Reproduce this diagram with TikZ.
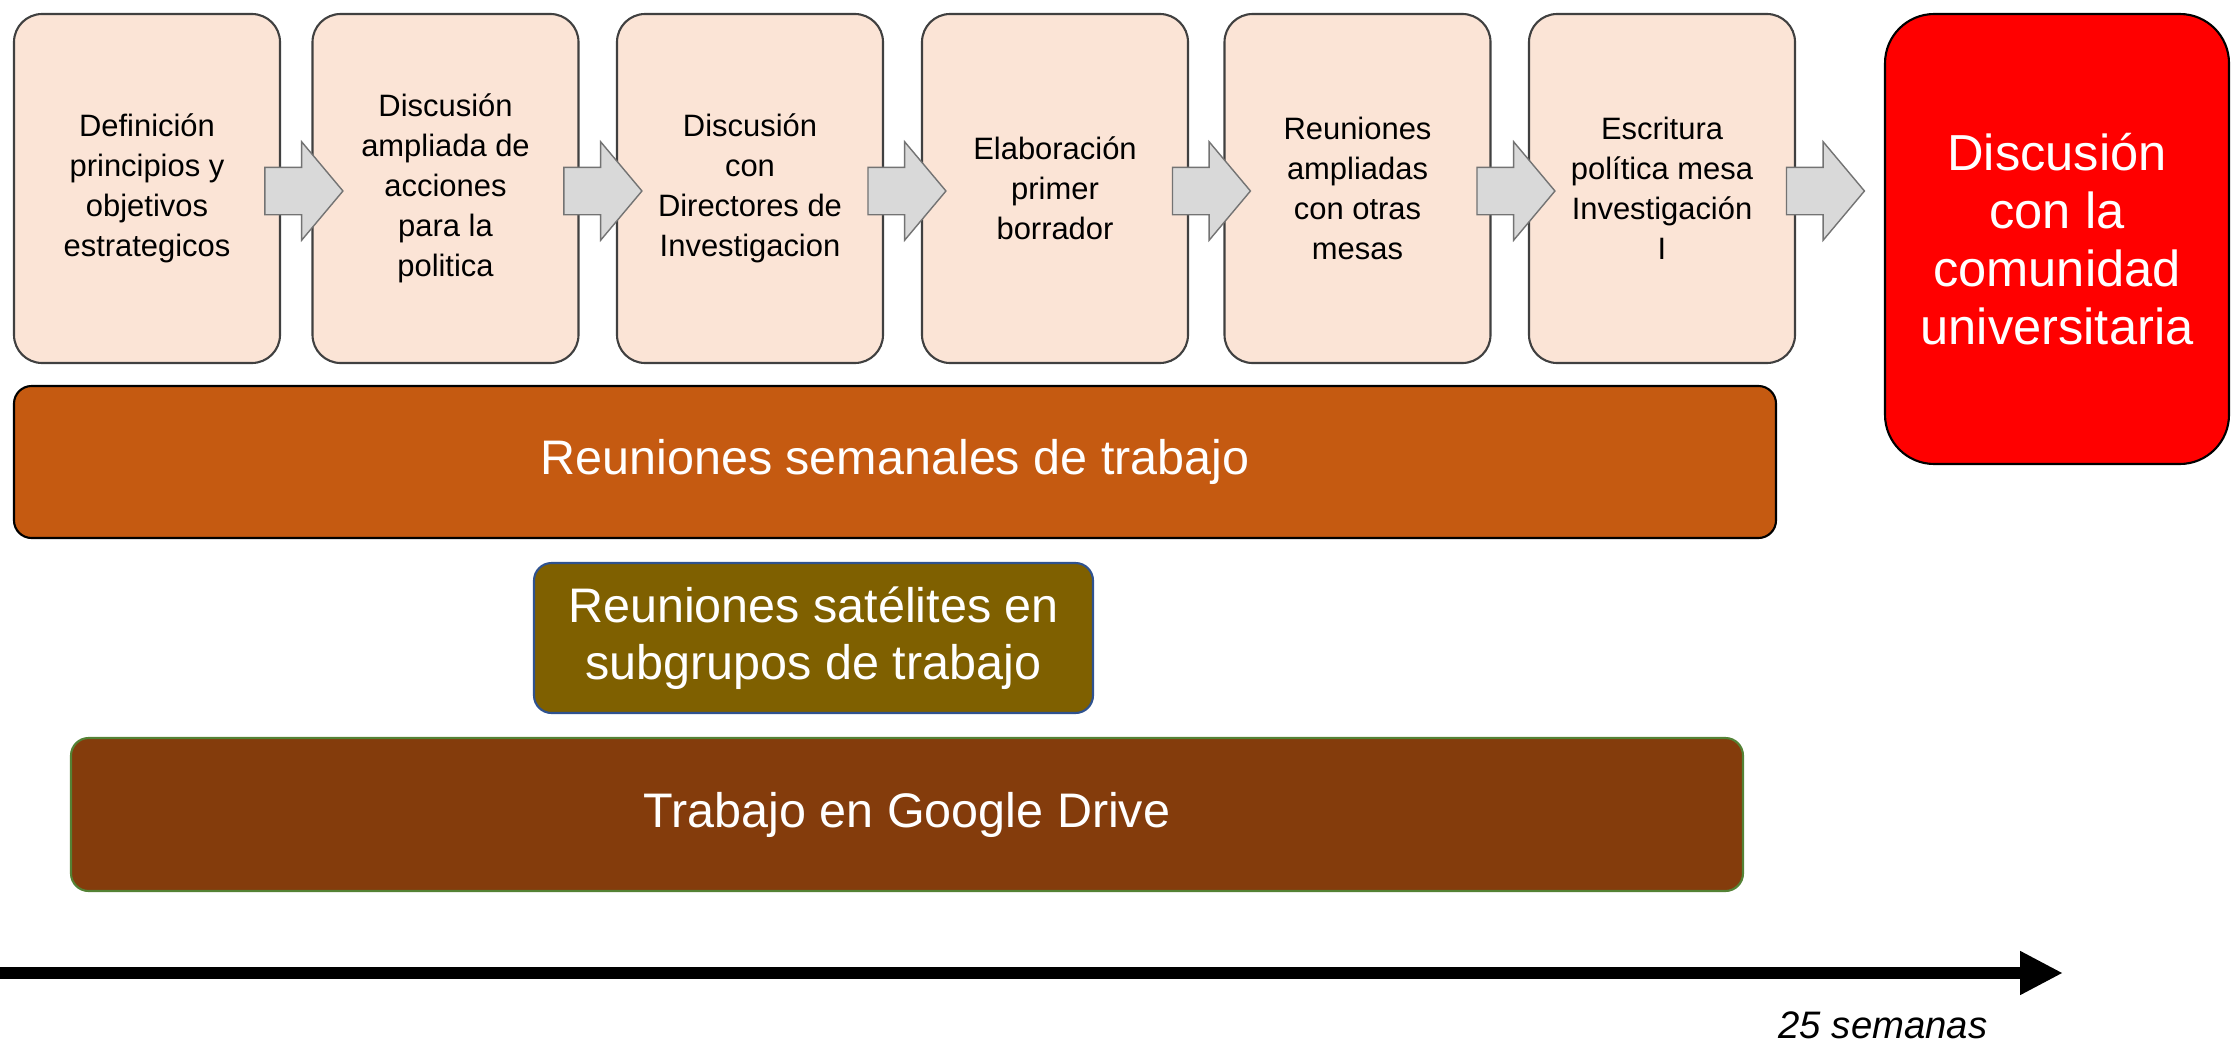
\documentclass[tikz,border=0pt]{standalone}
\usepackage{fontspec}
\setmainfont{Liberation Sans}
\usetikzlibrary{positioning,calc}
\usetikzlibrary{arrows.meta,shapes.arrows}
\definecolor{PeachFill}{RGB}{251,228,214}
\definecolor{StepGray}{RGB}{217,217,217}
\definecolor{BurntOrange}{RGB}{197,90,17}
\definecolor{OliveDark}{RGB}{127,96,0}
\definecolor{DriveBrown}{RGB}{132,60,12}
\definecolor{OliveEdge}{RGB}{47,82,143}
\definecolor{DriveEdge}{RGB}{84,130,53}
\tikzset{
  stage/.style={draw=black!75,fill=PeachFill,rounded corners=8pt,line width=0.6pt,inner sep=2pt,
    minimum width=2.66cm,minimum height=3.49cm,align=center,font=\fontsize{8.8}{11.4}\selectfont},
  goal/.style={draw=black,fill=red,text=white,rounded corners=14pt,line width=0.6pt,
    minimum width=3.44cm,minimum height=4.5cm,align=center,font=\fontsize{14.4}{16.5}\selectfont},
  band/.style={rounded corners=5pt,line width=0.6pt,text=white,align=center,font=\fontsize{13.8}{16.3}\selectfont},
}
\tikzset{blockarrow/.style={single arrow,draw=black!55,fill=StepGray,inner xsep=0pt,inner ysep=0.23cm,
    minimum height=0.78cm,single arrow head extend=0.255cm,single arrow tip angle=100},
  timeline/.style={line width=0.12cm,-{Triangle[length=4.3mm,width=4.1mm]}}}

\begin{document}
\begin{tikzpicture}
\useasboundingbox (0,0) rectangle (22.31,-10.42);
% etapas
\node[stage](s1) at (1.47,-1.885){Definición\\principios y\\objetivos\\estrategicos};
\node[stage](s2) at (4.455,-1.885){Discusión\\ampliada de\\acciones\\para la\\politica};
\node[stage](s3) at (7.50,-1.885){Discusión\\con\\Directores de\\Investigacion};
\node[stage](s4) at (10.55,-1.885){Elaboración\\primer\\borrador};
\node[stage](s5) at (13.575,-1.885){Reuniones\\ampliadas\\con otras\\mesas};
\node[stage](s6) at (16.62,-1.885){Escritura\\política mesa\\Investigación\\I};
\node[goal](fin) at (20.57,-2.39){Discusión\\con la\\comunidad\\universitaria};
% flechas de bloque
\node[blockarrow](a1) at (2.94,-1.91){};\node[blockarrow](a2) at (5.93,-1.91){};
\node[blockarrow](a3) at (8.97,-1.91){};\node[blockarrow](a4) at (12.015,-1.91){};
\node[blockarrow](a5) at (15.06,-1.91){};\node[blockarrow](a6) at (18.155,-1.91){};
% actividades continuas
\node[band,draw=black,fill=BurntOrange,minimum width=17.62cm,minimum height=1.52cm](sem) at (8.95,-4.62){Reuniones semanales de trabajo};
\node[band,draw=OliveEdge,fill=OliveDark,minimum width=5.59cm,minimum height=1.5cm](sat) at (8.135,-6.38){Reuniones satélites en\\subgrupos de trabajo};
\node[band,draw=DriveEdge,fill=DriveBrown,minimum width=16.72cm,minimum height=1.53cm](drv) at (9.07,-8.145){Trabajo en Google Drive};
% tiempo
\coordinate (t0) at (0,-9.73);\coordinate (t1) at (20.63,-9.73);
\draw[timeline] (t0)--(t1);
\node[font=\fontsize{10.9}{13}\selectfont\itshape](dur) at (18.83,-10.25){25 semanas};
\end{tikzpicture}
\end{document}
